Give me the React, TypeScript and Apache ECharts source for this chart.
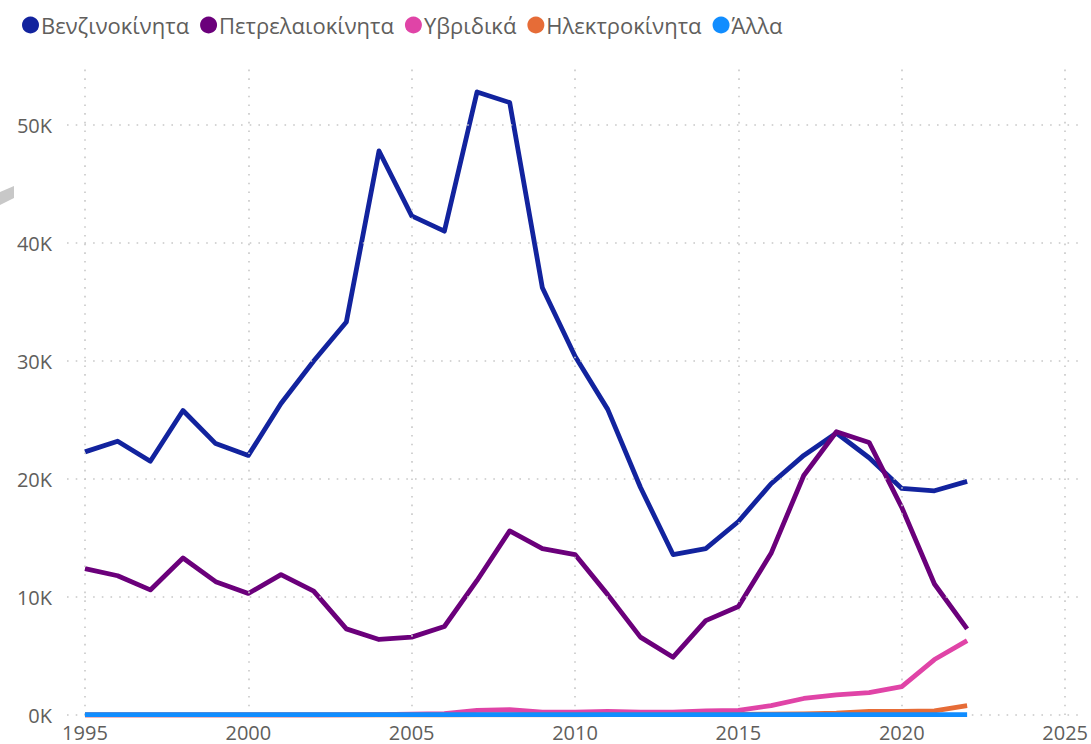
import React, { useEffect, useRef } from "react";
import * as echarts from "echarts";

const years = [1995, 1996, 1997, 1998, 1999, 2000, 2001, 2002, 2003, 2004, 2005, 2006, 2007, 2008, 2009, 2010, 2011, 2012, 2013, 2014, 2015, 2016, 2017, 2018, 2019, 2020, 2021, 2022];

const benzin = [22300, 23200, 21500, 25800, 23000, 22000, 26400, 30000, 33300, 47800, 42300, 41000, 52800, 51900, 36200, 30400, 25900, 19300, 13600, 14100, 16400, 19600, 22000, 23900, 21800, 19200, 19000, 19800];
const diesel = [12400, 11800, 10600, 13300, 11300, 10300, 11900, 10500, 7300, 6400, 6600, 7500, 11400, 15600, 14100, 13600, 10200, 6600, 4900, 8000, 9200, 13700, 20300, 24000, 23100, 17600, 11100, 7300];
const hybrid = [0, 0, 0, 0, 0, 0, 0, 0, 10, 30, 80, 120, 400, 450, 250, 250, 300, 250, 250, 350, 400, 800, 1400, 1700, 1900, 2400, 4700, 6300];
const electric = [0, 0, 0, 0, 0, 0, 0, 0, 0, 0, 0, 0, 10, 20, 20, 20, 30, 30, 40, 50, 60, 80, 100, 150, 300, 300, 350, 800];
const other = [40, 40, 40, 40, 40, 40, 40, 40, 40, 40, 40, 40, 40, 40, 40, 40, 40, 40, 40, 40, 40, 40, 40, 40, 40, 40, 40, 40];

const seriesNames = ["Βενζινοκίνητα", "Πετρελαιοκίνητα", "Υβριδικά", "Ηλεκτροκίνητα", "Άλλα"];
const seriesColors = ["#12239E", "#6B007B", "#E044A7", "#E66C37", "#118DFF"];
const xTicks = [1995, 2000, 2005, 2010, 2015, 2020, 2025];
const yTicks = [0, 10000, 20000, 30000, 40000, 50000];

const FONT = "'Open Sans', 'Noto Sans', sans-serif";
const gridLine = { color: "#c8c8c8", width: 1.6, type: [1.6, 7.1] as any };

export default function App() {
  const ref = useRef<HTMLDivElement>(null);
  useEffect(() => {
    if (!ref.current) return;
    const chart = echarts.init(ref.current, undefined, { renderer: "svg" });
    const all = [benzin, diesel, hybrid, electric, other];
    const series: any[] = all.map((vals, i) => ({
      name: seriesNames[i],
      type: "line",
      data: years.map((y, j) => [y, vals[j]]),
      showSymbol: false,
      symbol: "circle",
      lineStyle: { width: 4.8, color: seriesColors[i], join: "round" },
      itemStyle: { color: seriesColors[i] },
      z: 3 + i,
    }));
    series.push({
      name: "grid",
      type: "line",
      data: [],
      silent: true,
      z: 1,
      markLine: {
        silent: true,
        symbol: "none",
        label: { show: false },
        animation: false,
        lineStyle: gridLine,
        data: [
          ...xTicks.map((v) => ({ xAxis: v })),
          ...yTicks.map((v) => ({ yAxis: v })),
        ],
      },
    });
    chart.setOption({
      animation: false,
      legend: {
        data: seriesNames,
        left: 17,
        top: 9,
        icon: "circle",
        itemWidth: 17,
        itemHeight: 17,
        itemGap: 11,
        textStyle: { fontSize: 22, color: "#605E5C", fontFamily: FONT, padding: [0, 0, 0, -3] },
      },
      grid: { left: 67, right: 6, top: 66, bottom: 29, containLabel: false },
      xAxis: {
        type: "value",
        min: 1994.45,
        max: 2025.52,
        axisLine: { show: false },
        axisTick: { show: false },
        splitLine: { show: false },
        axisLabel: {
          customValues: xTicks,
          color: "#605E5C",
          fontSize: 20,
          fontFamily: FONT,
          margin: 7,
          formatter: (v: number) => String(v),
        },
      },
      yAxis: {
        type: "value",
        min: 0,
        max: 55000,
        axisLine: { show: false },
        axisTick: { show: false },
        splitLine: { show: false },
        axisLabel: {
          customValues: yTicks,
          color: "#605E5C",
          fontSize: 20,
          fontFamily: FONT,
          margin: 15,
          formatter: (v: number) => `${Math.round(v / 1000)}K`,
        },
      },
      graphic: [
        {
          type: "polygon",
          shape: { points: [[0, 192], [14, 186], [14, 198], [0, 205]] },
          style: { fill: "#c8c8c8" },
          silent: true,
        },
      ],
      series,
    });
    return () => chart.dispose();
  }, []);
  return <div ref={ref} style={{ width: 1091, height: 744, position: "absolute", left: 0, top: 0 }} />;
}
